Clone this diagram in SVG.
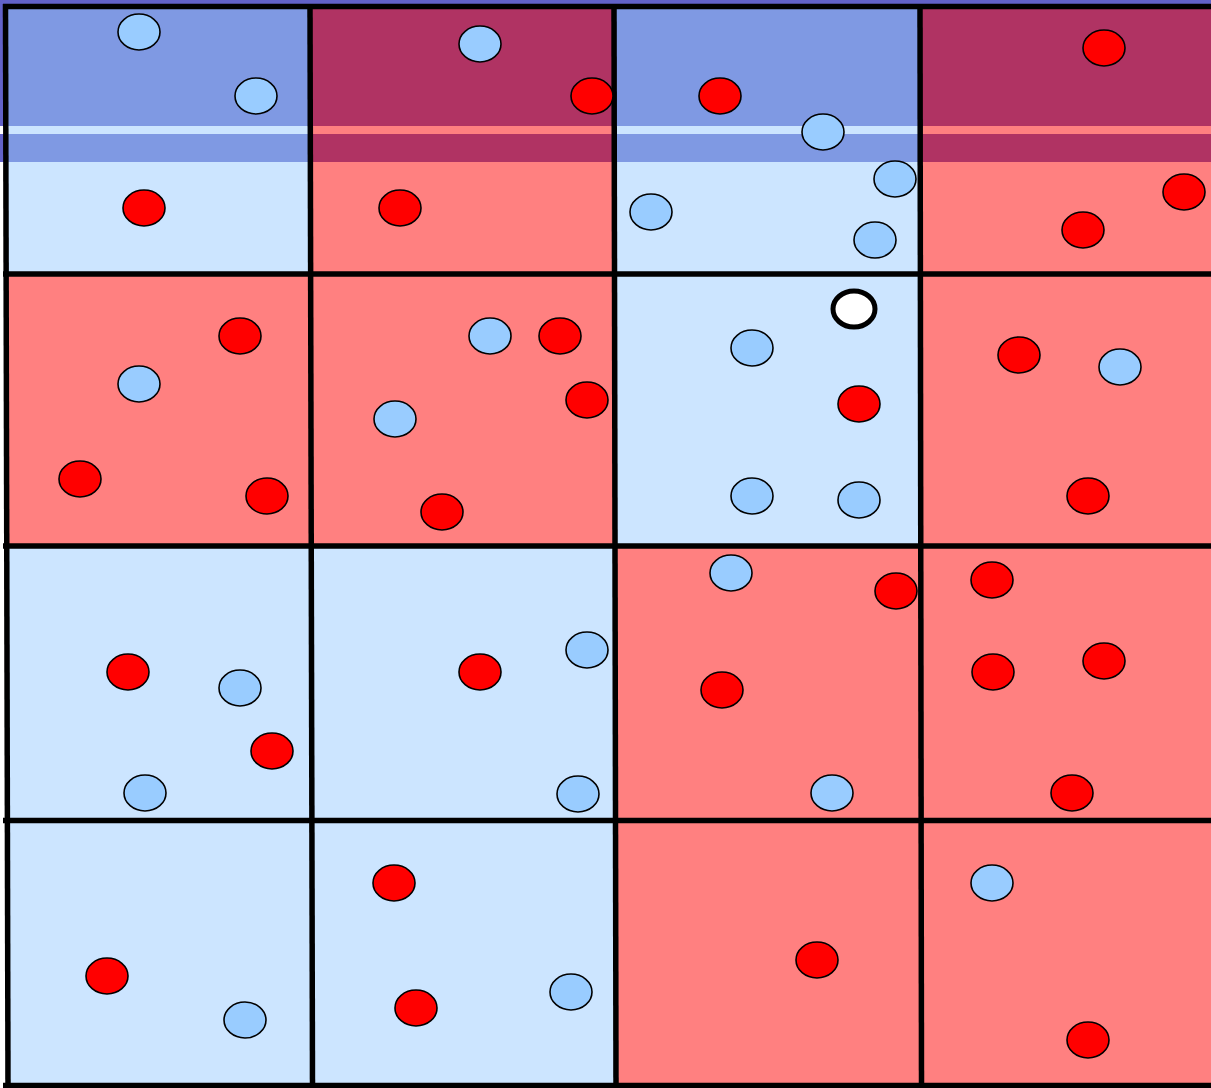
<svg xmlns="http://www.w3.org/2000/svg" width="1211" height="1088" viewBox="0 0 1211 1088">
<style>
.b{fill:#cce5ff}
.r{fill:#ff8080}
.ob{fill:#7f99e3}
.or{fill:#b03363}
.dr{fill:#ff0000;stroke:#000;stroke-width:1.6}
.db{fill:#99ccff;stroke:#000;stroke-width:1.6}
.dw{fill:#ffffff;stroke:#000;stroke-width:5}
.g{stroke:#000;stroke-width:5.5;fill:none}
</style>
<rect x="0" y="0" width="1211" height="1088" fill="#ffffff"/>
<g id="cells">
<g id="cell-0-0"><rect class="b" x="6" y="6" width="305" height="268"/></g>
<g id="cell-0-1"><rect class="r" x="311" y="6" width="303" height="268"/></g>
<g id="cell-0-2"><rect class="b" x="614" y="6" width="306" height="268"/></g>
<g id="cell-0-3"><rect class="r" x="920" y="6" width="291" height="268"/></g>
<g id="cell-1-0"><rect class="r" x="6" y="274" width="305" height="272"/></g>
<g id="cell-1-1"><rect class="r" x="311" y="274" width="303" height="272"/></g>
<g id="cell-1-2"><rect class="b" x="614" y="274" width="306" height="272"/></g>
<g id="cell-1-3"><rect class="r" x="920" y="274" width="291" height="272"/></g>
<g id="cell-2-0"><rect class="b" x="6" y="546" width="305" height="274"/></g>
<g id="cell-2-1"><rect class="b" x="311" y="546" width="303" height="274"/></g>
<g id="cell-2-2"><rect class="r" x="614" y="546" width="306" height="274"/></g>
<g id="cell-2-3"><rect class="r" x="920" y="546" width="291" height="274"/></g>
<g id="cell-3-0"><rect class="b" x="6" y="820" width="305" height="266"/></g>
<g id="cell-3-1"><rect class="b" x="311" y="820" width="303" height="266"/></g>
<g id="cell-3-2"><rect class="r" x="614" y="820" width="306" height="266"/></g>
<g id="cell-3-3"><rect class="r" x="920" y="820" width="291" height="266"/></g>
</g>
<g id="band">
<rect x="0" y="0" width="1211" height="4" fill="#6262c8"/>
<rect x="0" y="0" width="4" height="126" fill="#6262c8"/>
<rect x="0" y="134" width="4" height="28" fill="#6262c8"/>
<rect class="ob" x="4" y="4" width="307" height="122"/>
<rect class="ob" x="4" y="134" width="307" height="28"/>
<rect class="or" x="311" y="4" width="303" height="122"/>
<rect class="or" x="311" y="134" width="303" height="28"/>
<rect class="ob" x="614" y="4" width="306" height="122"/>
<rect class="ob" x="614" y="134" width="306" height="28"/>
<rect class="or" x="920" y="4" width="291" height="122"/>
<rect class="or" x="920" y="134" width="291" height="28"/>
</g>
<g id="grid-lines">
<line class="g" x1="3" y1="6.5" x2="1211" y2="6.5"/>
<line class="g" x1="3" y1="274" x2="1211" y2="274"/>
<line class="g" x1="3" y1="546" x2="1211" y2="546"/>
<line class="g" x1="3" y1="820.5" x2="1211" y2="820.5"/>
<line class="g" x1="3" y1="1085.5" x2="1211" y2="1085.5"/>
<line class="g" x1="5.5" y1="4" x2="8" y2="1088"/>
<line class="g" x1="310" y1="4" x2="312.5" y2="1088"/>
<line class="g" x1="614" y1="4" x2="616" y2="1088"/>
<line class="g" x1="920" y1="4" x2="921.5" y2="1088"/>
</g>
<g id="connectors"></g>
<g id="dots">
<g id="d1"><ellipse class="db" cx="139" cy="32" rx="21" ry="18"/></g>
<g id="d2"><ellipse class="db" cx="256" cy="96" rx="21" ry="18"/></g>
<g id="d3"><ellipse class="dr" cx="144" cy="208" rx="21" ry="18"/></g>
<g id="d4"><ellipse class="db" cx="480" cy="44" rx="21" ry="18"/></g>
<g id="d5"><ellipse class="dr" cx="592" cy="96" rx="21" ry="18"/></g>
<g id="d6"><ellipse class="dr" cx="400" cy="208" rx="21" ry="18"/></g>
<g id="d7"><ellipse class="dr" cx="720" cy="96" rx="21" ry="18"/></g>
<g id="d8"><ellipse class="db" cx="823" cy="132" rx="21" ry="18"/></g>
<g id="d9"><ellipse class="db" cx="651" cy="212" rx="21" ry="18"/></g>
<g id="d10"><ellipse class="db" cx="895" cy="179" rx="21" ry="18"/></g>
<g id="d11"><ellipse class="db" cx="875" cy="240" rx="21" ry="18"/></g>
<g id="d12"><ellipse class="dr" cx="1104" cy="48" rx="21" ry="18"/></g>
<g id="d13"><ellipse class="dr" cx="1184" cy="192" rx="21" ry="18"/></g>
<g id="d14"><ellipse class="dr" cx="1083" cy="230" rx="21" ry="18"/></g>
<g id="d15"><ellipse class="dr" cx="240" cy="336" rx="21" ry="18"/></g>
<g id="d16"><ellipse class="db" cx="139" cy="384" rx="21" ry="18"/></g>
<g id="d17"><ellipse class="dr" cx="80" cy="479" rx="21" ry="18"/></g>
<g id="d18"><ellipse class="dr" cx="267" cy="496" rx="21" ry="18"/></g>
<g id="d19"><ellipse class="db" cx="490" cy="336" rx="21" ry="18"/></g>
<g id="d20"><ellipse class="dr" cx="560" cy="336" rx="21" ry="18"/></g>
<g id="d21"><ellipse class="dr" cx="587" cy="400" rx="21" ry="18"/></g>
<g id="d22"><ellipse class="db" cx="395" cy="419" rx="21" ry="18"/></g>
<g id="d23"><ellipse class="dr" cx="442" cy="512" rx="21" ry="18"/></g>
<g id="d24"><ellipse class="dw" cx="854" cy="309" rx="21" ry="18"/></g>
<g id="d25"><ellipse class="db" cx="752" cy="348" rx="21" ry="18"/></g>
<g id="d26"><ellipse class="dr" cx="859" cy="404" rx="21" ry="18"/></g>
<g id="d27"><ellipse class="db" cx="752" cy="496" rx="21" ry="18"/></g>
<g id="d28"><ellipse class="db" cx="859" cy="500" rx="21" ry="18"/></g>
<g id="d29"><ellipse class="dr" cx="1019" cy="355" rx="21" ry="18"/></g>
<g id="d30"><ellipse class="db" cx="1120" cy="367" rx="21" ry="18"/></g>
<g id="d31"><ellipse class="dr" cx="1088" cy="496" rx="21" ry="18"/></g>
<g id="d32"><ellipse class="dr" cx="128" cy="672" rx="21" ry="18"/></g>
<g id="d33"><ellipse class="db" cx="240" cy="688" rx="21" ry="18"/></g>
<g id="d34"><ellipse class="dr" cx="272" cy="751" rx="21" ry="18"/></g>
<g id="d35"><ellipse class="db" cx="145" cy="793" rx="21" ry="18"/></g>
<g id="d36"><ellipse class="dr" cx="480" cy="672" rx="21" ry="18"/></g>
<g id="d37"><ellipse class="db" cx="587" cy="650" rx="21" ry="18"/></g>
<g id="d38"><ellipse class="db" cx="578" cy="794" rx="21" ry="18"/></g>
<g id="d39"><ellipse class="db" cx="731" cy="573" rx="21" ry="18"/></g>
<g id="d40"><ellipse class="dr" cx="896" cy="591" rx="21" ry="18"/></g>
<g id="d41"><ellipse class="dr" cx="722" cy="690" rx="21" ry="18"/></g>
<g id="d42"><ellipse class="db" cx="832" cy="793" rx="21" ry="18"/></g>
<g id="d43"><ellipse class="dr" cx="992" cy="580" rx="21" ry="18"/></g>
<g id="d44"><ellipse class="dr" cx="993" cy="672" rx="21" ry="18"/></g>
<g id="d45"><ellipse class="dr" cx="1104" cy="661" rx="21" ry="18"/></g>
<g id="d46"><ellipse class="dr" cx="1072" cy="793" rx="21" ry="18"/></g>
<g id="d47"><ellipse class="dr" cx="107" cy="976" rx="21" ry="18"/></g>
<g id="d48"><ellipse class="db" cx="245" cy="1020" rx="21" ry="18"/></g>
<g id="d49"><ellipse class="dr" cx="394" cy="883" rx="21" ry="18"/></g>
<g id="d50"><ellipse class="dr" cx="416" cy="1008" rx="21" ry="18"/></g>
<g id="d51"><ellipse class="db" cx="571" cy="992" rx="21" ry="18"/></g>
<g id="d52"><ellipse class="dr" cx="817" cy="960" rx="21" ry="18"/></g>
<g id="d53"><ellipse class="db" cx="992" cy="883" rx="21" ry="18"/></g>
<g id="d54"><ellipse class="dr" cx="1088" cy="1040" rx="21" ry="18"/></g>
</g>
</svg>
